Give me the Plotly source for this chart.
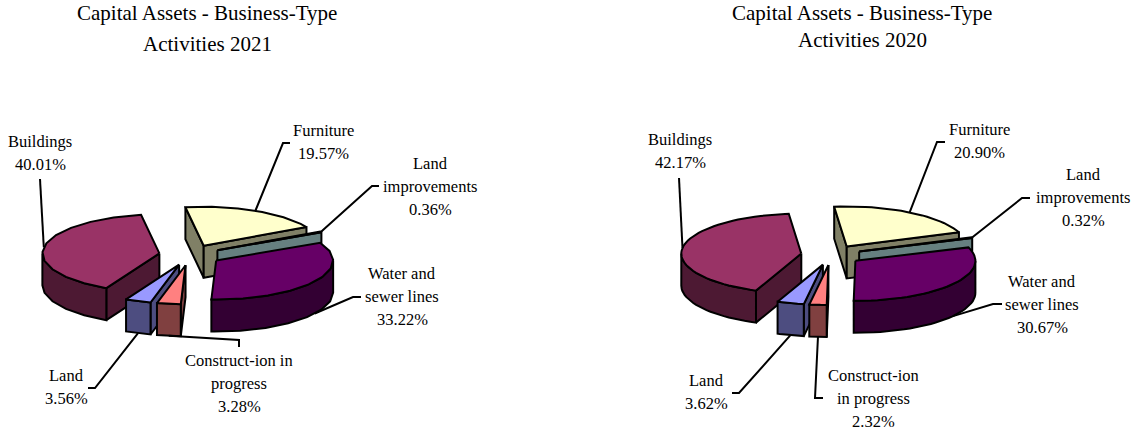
import numpy as np
import plotly.graph_objects as go

# slice order follows the chart, clockwise from the first angle
categories = ["Furniture", "Land improvements", "Water and sewer lines",
              "Construction in progress", "Land", "Buildings"]
values_2021 = [19.57, 0.36, 33.22, 3.28, 3.56, 40.01]
values_2020 = [20.90, 0.32, 30.67, 2.32, 3.62, 42.17]

top_colors = ["#FFFFCC", "#CCFFFF", "#660066", "#FF8080", "#9999FF", "#993366"]
side_colors = ["#808066", "#668080", "#330033", "#804040", "#4D4D80", "#4D1933"]

FONT = "Liberation Serif"

# pixel layout of each panel, axes below run 1:1 with the page
panels = [
    dict(values=values_2021, cx=190, cy=255, a=117, b=39, expl=31, depth=32, start=-9, step=13,
         title=["Capital Assets - Business-Type", "Activities 2021"], title_x=207, title_y=[13, 44],
         labels=[(["Furniture"], 323, 130), (["Land", "improvements"], 430, 163),
                 (["Water and", "sewer lines"], 402, 273), (["Construct-ion in", "progress"], 239, 360),
                 (["Land"], 66, 375), (["Buildings"], 40, 141)],
         elbows=[[(283, 143), (290, 143)], [(372, 186), (379, 186)], [(353, 297), (361, 297)],
                 [(239, 340), (239, 347)], [(95, 388), (88, 388)], [(40, 179)]]),
    dict(values=values_2020, cx=831, cy=255, a=120, b=40, expl=30, depth=32, start=-6, step=3,
         title=["Capital Assets - Business-Type", "Activities 2020"], title_x=862, title_y=[13, 40],
         labels=[(["Furniture"], 979, 129), (["Land", "improvements"], 1083, 174),
                 (["Water and", "sewer lines"], 1042, 281), (["Construct-ion", "in progress"], 873, 375),
                 (["Land"], 706, 380), (["Buildings"], 680, 139)],
         elbows=[[(937, 142), (945, 142)], [(1022, 198), (1030, 198)], [(993, 304), (1002, 304)],
                 [(815, 398), (823, 398)], [(739, 393), (732, 393)], [(679, 178)]]),
]

fig = go.Figure()


def poly(xs, ys, color):
    fig.add_trace(go.Scatter(x=xs, y=ys, mode="lines", fill="toself", fillcolor=color,
                             line=dict(color="black", width=2), hoverinfo="skip", showlegend=False))


def text(s, x, y, size=16.5):
    fig.add_annotation(x=x, y=y, text=s, showarrow=False, xanchor="center", yanchor="middle",
                       font=dict(family=FONT, size=size, color="black"))


for p in panels:
    a, b, depth = p["a"], p["b"], p["depth"]
    sweeps = np.array(p["values"]) * 3.6
    starts = p["start"] + np.concatenate([[0], np.cumsum(sweeps)[:-1]])

    slices = []
    for i, (s, w) in enumerate(zip(starts, sweeps)):
        mid = np.radians(s + w / 2)
        ax = p["cx"] + p["expl"] * np.sin(mid)
        ay = p["cy"] - p["expl"] * b / a * np.cos(mid)
        slices.append((ay, i, s, s + w, ax))

    # back slices first
    for ay, i, s, e, ax in sorted(slices):
        def px(t):
            return ax + a * np.sin(np.radians(t)), ay - b * np.cos(np.radians(t))

        # radial faces, only the ones turned to the viewer
        for edge, normal in ((s, s - 90), (e, e + 90)):
            if np.cos(np.radians(normal)) < 0:
                ex, ey = px(edge)
                poly([ax, ex, ex, ax, ax], [ay, ey, ey + depth, ay + depth, ay], side_colors[i])

        # outer wall, front half of the ellipse
        lo, hi = max(s, 90), min(e, 270)
        if hi > lo:
            ts = np.append(np.arange(lo, hi, p["step"]), hi)
            wx, wy = px(ts)
            poly(np.concatenate([wx, wx[::-1], wx[:1]]),
                 np.concatenate([wy, wy[::-1] + depth, wy[:1]]), side_colors[i])

        ts = np.append(np.arange(s, e, p["step"]), e)
        tx, ty = px(ts)
        poly(np.concatenate([[ax], tx, [ax]]), np.concatenate([[ay], ty, [ay]]), top_colors[i])

    # leader lines start on the middle of each slice's rim
    for (ay, i, s, e, ax) in slices:
        mid = (s + e) / 2
        x0 = ax + a * np.sin(np.radians(mid))
        y0 = ay - b * np.cos(np.radians(mid))
        if np.cos(np.radians(mid)) < 0:
            y0 += depth
        pts = [(x0, y0)] + p["elbows"][i]
        fig.add_trace(go.Scatter(x=[q[0] for q in pts], y=[q[1] for q in pts], mode="lines",
                                 line=dict(color="black", width=2), hoverinfo="skip", showlegend=False))

        lines, lx, ly = p["labels"][i]
        for k, s_line in enumerate(lines + [f"{p['values'][i]:.2f}%"]):
            text(s_line, lx, ly + k * 23)

    for s_line, ty in zip(p["title"], p["title_y"]):
        text(s_line, p["title_x"], ty, size=21)

fig.update_layout(width=1136, height=434, margin=dict(l=0, r=0, t=0, b=0),
                  paper_bgcolor="white", plot_bgcolor="white", showlegend=False,
                  xaxis=dict(range=[0, 1136], visible=False, fixedrange=True),
                  yaxis=dict(range=[434, 0], visible=False, fixedrange=True))

# drop the default body margin so the figure fills the window
fig.write_html("out.html", config=dict(displayModeBar=False),
               post_script="document.body.style.margin='0';")
